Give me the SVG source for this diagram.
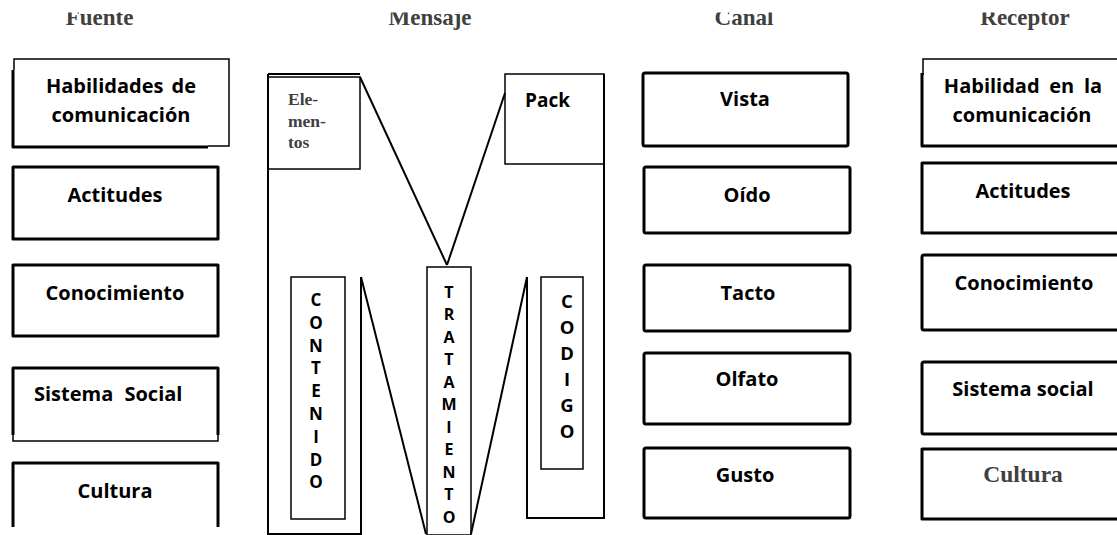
<svg xmlns="http://www.w3.org/2000/svg" width="1117" height="535" viewBox="0 0 1117 535">
<defs>
<style>
.title{font-family:"Liberation Serif","Times New Roman",serif;font-weight:bold;font-size:23px;fill:#404040;text-anchor:middle}
.lbl{font-family:"Open Sans","Liberation Sans",sans-serif;font-weight:bold;font-size:20px;fill:#000;text-anchor:middle}
.ser{font-family:"Liberation Serif","Times New Roman",serif;font-weight:bold;fill:#404040}
.vert{font-family:"Open Sans","Liberation Sans",sans-serif;font-weight:bold;font-size:16px;fill:#000;text-anchor:middle}
.thick{fill:none;stroke:#000;stroke-width:3;stroke-linejoin:round}
.thin{fill:none;stroke:#000;stroke-width:1.5}
.m{fill:none;stroke:#000;stroke-width:2}
</style>
<clipPath id="tclip"><rect x="0" y="12.5" width="1117" height="30"/></clipPath>
</defs>
<rect width="1117" height="535" fill="#fff"/>

<g id="titles" clip-path="url(#tclip)">
<text class="title" x="99.5" y="25">Fuente</text>
<text class="title" x="430" y="25">Mensaje</text>
<text class="title" x="744" y="25">Canal</text>
<text class="title" x="1025" y="25">Receptor</text>
</g>

<!-- Fuente -->
<g id="f-habilidades">
<path class="thin" d="M14,70 V59 H229 V146 H208"/>
<path class="thick" d="M13,70 V147 H208"/>
<text class="lbl" x="121" y="93" word-spacing="3">Habilidades de</text>
<text class="lbl" x="121" y="122">comunicación</text>
</g>
<g id="f-actitudes">
<rect class="thick" x="13" y="167" width="205" height="72"/>
<text class="lbl" x="115" y="202">Actitudes</text>
</g>
<g id="f-conocimiento">
<rect class="thick" x="13" y="265" width="205" height="71"/>
<text class="lbl" x="115" y="300">Conocimiento</text>
</g>
<g id="f-sistema">
<path class="thick" d="M13,435 V368 H218 V435"/>
<path class="thin" d="M13,434 V441 H218 V434"/>
<text class="lbl" x="34" y="401" style="text-anchor:start" word-spacing="6">Sistema Social</text>
</g>
<g id="f-cultura">
<path class="thick" d="M13,527 V463 H218 V527"/>
<text class="lbl" x="115" y="498">Cultura</text>
</g>

<!-- Mensaje -->
<g id="connectors">
<path class="m" d="M268,74 V534 H361 V277"/>
<path class="m" stroke-width="2.5" d="M268,74 H360"/>
<path class="m" d="M360,77 L447,265"/>
<path class="m" d="M505,93 L447,265"/>
<path class="m" d="M361,277 L426,534"/>
<path class="m" d="M471,534 L527,277"/>
<path class="m" d="M527,277 V518 H604 V74"/>
</g>
<g id="m-elementos">
<rect class="thin" x="268" y="77" width="92" height="92"/>
<text class="ser" font-size="17.5" x="288" y="105">Ele-</text>
<text class="ser" font-size="17.5" x="288" y="127">men-</text>
<text class="ser" font-size="17.5" x="288" y="148">tos</text>
</g>
<g id="m-pack">
<rect class="thin" x="505" y="74" width="99" height="90"/>
<text class="lbl" style="text-anchor:start;font-size:19px" x="525" y="107">Pack</text>
</g>
<g id="m-contenido">
<rect class="thin" x="291" y="277" width="54" height="242"/>
<text class="vert" style="font-size:17px"><tspan x="316" y="306">C</tspan><tspan x="316" y="328.8">O</tspan><tspan x="316" y="351.6">N</tspan><tspan x="316" y="374.4">T</tspan><tspan x="316" y="397.2">E</tspan><tspan x="316" y="420">N</tspan><tspan x="316" y="442.8">I</tspan><tspan x="316" y="465.6">D</tspan><tspan x="316" y="488.4">O</tspan></text>
</g>
<g id="m-tratamiento">
<rect class="thin" x="427" y="267" width="44" height="268"/>
<text class="vert"><tspan x="449" y="297.5">T</tspan><tspan x="449" y="320">R</tspan><tspan x="449" y="342.5">A</tspan><tspan x="449" y="365">T</tspan><tspan x="449" y="387.5">A</tspan><tspan x="449" y="410">M</tspan><tspan x="449" y="432.5">I</tspan><tspan x="449" y="455">E</tspan><tspan x="449" y="477.5">N</tspan><tspan x="449" y="500">T</tspan><tspan x="449" y="522.5">O</tspan></text>
</g>
<g id="m-codigo">
<rect class="thin" x="541" y="277" width="42" height="192"/>
<text class="vert" style="font-size:18.5px"><tspan x="567" y="308.4">C</tspan><tspan x="567" y="334.4">O</tspan><tspan x="567" y="360.4">D</tspan><tspan x="567" y="386.4">I</tspan><tspan x="567" y="412.4">G</tspan><tspan x="567" y="438.4">O</tspan></text>
</g>

<!-- Canal -->
<g id="c-vista">
<rect class="thick" x="643" y="73" width="205" height="73" rx="2"/>
<text class="lbl" x="745" y="106">Vista</text>
</g>
<g id="c-oido">
<rect class="thick" x="644" y="167" width="206" height="66" rx="2"/>
<text class="lbl" x="747" y="202">Oído</text>
</g>
<g id="c-tacto">
<rect class="thick" x="644" y="265" width="206" height="66" rx="2"/>
<text class="lbl" x="748" y="300">Tacto</text>
</g>
<g id="c-olfato">
<rect class="thick" x="644" y="353" width="206" height="71" rx="2"/>
<text class="lbl" x="747" y="386">Olfato</text>
</g>
<g id="c-gusto">
<rect class="thick" x="644" y="448" width="206" height="70" rx="2"/>
<text class="lbl" x="745" y="482">Gusto</text>
</g>

<!-- Receptor -->
<g id="r-habilidad">
<path class="thin" d="M923,75 V59 H1130"/>
<path class="thick" d="M922,73 V146 H1130"/>
<text class="lbl" x="1023" y="93" word-spacing="4.5">Habilidad en la</text>
<text class="lbl" x="1022" y="122">comunicación</text>
</g>
<g id="r-actitudes">
<rect class="thick" x="922" y="163" width="220" height="70"/>
<text class="lbl" x="1023" y="198">Actitudes</text>
</g>
<g id="r-conocimiento">
<rect class="thick" x="922" y="255" width="220" height="75" rx="2"/>
<text class="lbl" x="1024" y="290">Conocimiento</text>
</g>
<g id="r-sistema">
<rect class="thick" x="922" y="362" width="220" height="72" rx="2"/>
<text class="lbl" x="1023" y="396">Sistema social</text>
</g>
<g id="r-cultura">
<rect class="thick" x="922" y="449" width="220" height="70"/>
<text class="ser" font-size="23.5" x="1023" y="482" text-anchor="middle">Cultura</text>
</g>
</svg>
